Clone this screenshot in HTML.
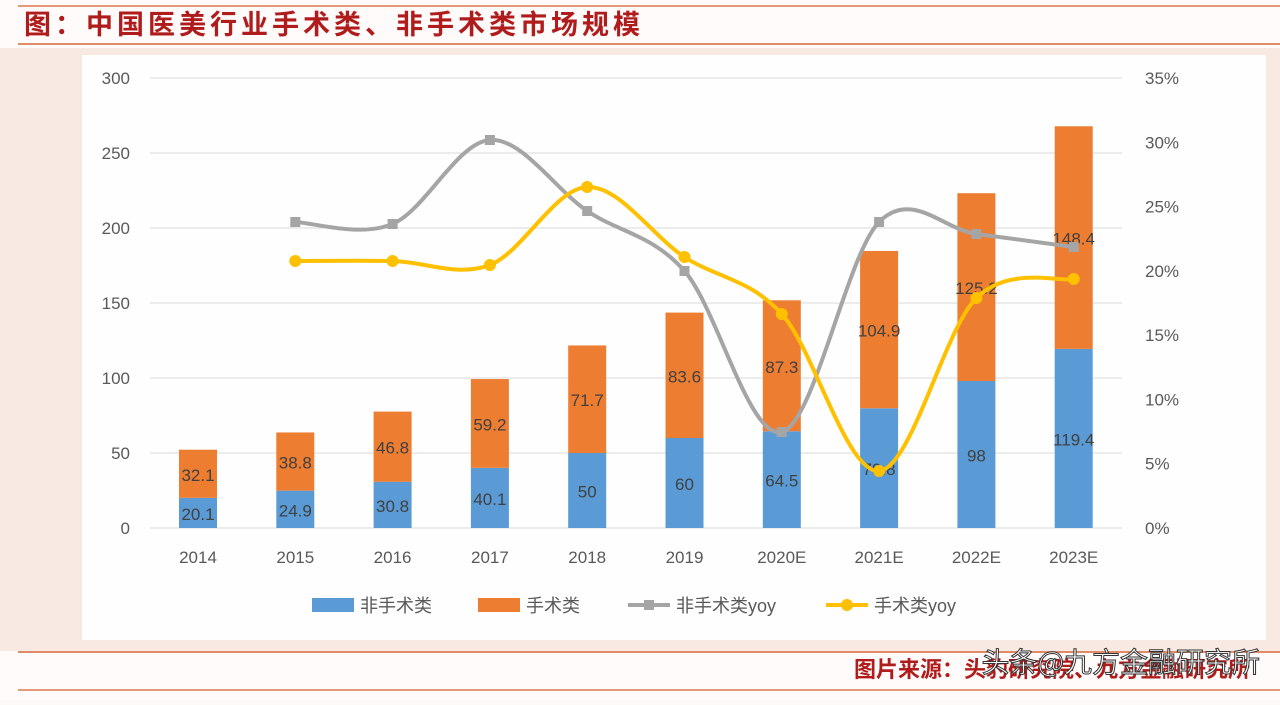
<!DOCTYPE html>
<html><head><meta charset="utf-8"><style>
body{margin:0;width:1280px;height:700px;background:#fdf9f7;overflow:hidden;font-family:"Liberation Sans","Noto Sans CJK SC",sans-serif}
</style></head><body>
<svg id="s" width="1280" height="700" xmlns="http://www.w3.org/2000/svg" font-family="Liberation Sans, Noto Sans CJK SC, sans-serif">
<rect x="0" y="0" width="1280" height="700" fill="#fefbfa"/>
<rect x="0" y="48" width="1280" height="603" fill="#f8e9e2"/>
<line x1="18" y1="6" x2="1280" y2="6" stroke="#e59a78" stroke-width="2"/>
<line x1="18" y1="44" x2="1280" y2="44" stroke="#e08a66" stroke-width="2"/>
<line x1="18" y1="652" x2="1280" y2="652" stroke="#e08a66" stroke-width="2"/>
<line x1="18" y1="690" x2="1280" y2="690" stroke="#e59a78" stroke-width="2"/>
<text x="24" y="34" font-size="27" font-weight="bold" fill="#b01c1c" letter-spacing="4" font-family="Noto Sans CJK SC, sans-serif">图：中国医美行业手术类、非手术类市场规模</text>
<rect x="82" y="55" width="1184" height="585" fill="#fefefe"/>
<text x="1250" y="677" font-size="22" font-weight="bold" fill="#b01c1c" text-anchor="end" font-family="Noto Sans CJK SC, sans-serif">图片来源：头豹研究院、九方金融研究所</text>
<text x="1260" y="672" font-size="28" fill="#fff" stroke="#333" stroke-width="1" text-anchor="end" font-family="Noto Sans CJK SC, sans-serif">头条@九方金融研究所</text>
<g id="g"></g>
</svg>
<script>
var g=document.getElementById('g'),h='';
function Y(v){return 528-v*1.5}
for(var i=0;i<=6;i++){var y=528-i*75;h+='<line x1="150" x2="1122" y1="'+y+'" y2="'+y+'" stroke="#d9d9d9"/>';h+='<text x="130" y="'+(y+6)+'" font-size="17" fill="#595959" text-anchor="end">'+(i*50)+'</text>';}
for(var i=0;i<=7;i++){var y=528-i*450/7;h+='<text x="1145" y="'+(y+6)+'" font-size="17" fill="#595959">'+(i*5)+'%</text>';}
var yrs=['2014','2015','2016','2017','2018','2019','2020E','2021E','2022E','2023E'];
var a=[20.1,24.9,30.8,40.1,50,60,64.5,79.8,98,119.4],b=[32.1,38.8,46.8,59.2,71.7,83.6,87.3,104.9,125.2,148.4];
var X=function(i){return 198+i*97.3};
for(var i=0;i<10;i++){var x=X(i);
h+='<rect x="'+(x-19)+'" y="'+Y(a[i])+'" width="38" height="'+(a[i]*1.5)+'" fill="#5b9bd5"/>';
h+='<rect x="'+(x-19)+'" y="'+Y(a[i]+b[i])+'" width="38" height="'+(b[i]*1.5)+'" fill="#ed7d31"/>';
h+='<text x="'+x+'" y="'+(Y(a[i]/2)+7)+'" font-size="17" fill="#404040" text-anchor="middle">'+a[i]+'</text>';
h+='<text x="'+x+'" y="'+(Y(a[i]+b[i]/2)+7)+'" font-size="17" fill="#404040" text-anchor="middle">'+b[i]+'</text>';
h+='<text x="'+x+'" y="563" font-size="17" fill="#595959" text-anchor="middle">'+yrs[i]+'</text>';}
function path(ys){var pts=ys.map(function(y,k){return [X(k+1),y]});var d='M'+pts[0];
for(var k=0;k<pts.length-1;k++){var p0=pts[k-1]||pts[k],p1=pts[k],p2=pts[k+1],p3=pts[k+2]||p2;
d+=' C'+(p1[0]+(p2[0]-p0[0])/6)+','+(p1[1]+(p2[1]-p0[1])/6)+' '+(p2[0]-(p3[0]-p1[0])/6)+','+(p2[1]-(p3[1]-p1[1])/6)+' '+p2;}return [d,pts]}
var gy=[222,224,140,211,271,432,222,234,247],yy=[261,261,265,187,257,314,471,298,279];
var r=path(gy);h+='<path d="'+r[0]+'" fill="none" stroke="#a5a5a5" stroke-width="4"/>';
r[1].forEach(function(p){h+='<rect x="'+(p[0]-5)+'" y="'+(p[1]-5)+'" width="10" height="10" fill="#a5a5a5"/>'});
r=path(yy);h+='<path d="'+r[0]+'" fill="none" stroke="#ffc000" stroke-width="4"/>';
r[1].forEach(function(p){h+='<circle cx="'+p[0]+'" cy="'+p[1]+'" r="6" fill="#ffc000"/>'});
h+='<rect x="312" y="598" width="42" height="14" fill="#5b9bd5"/><text x="360" y="612" font-size="18" fill="#595959">非手术类</text>';
h+='<rect x="478" y="598" width="42" height="14" fill="#ed7d31"/><text x="526" y="612" font-size="18" fill="#595959">手术类</text>';
h+='<line x1="628" x2="670" y1="605" y2="605" stroke="#a5a5a5" stroke-width="4"/><rect x="644" y="600" width="10" height="10" fill="#a5a5a5"/><text x="676" y="612" font-size="18" fill="#595959">非手术类yoy</text>';
h+='<line x1="826" x2="868" y1="605" y2="605" stroke="#ffc000" stroke-width="4"/><circle cx="847" cy="605" r="6" fill="#ffc000"/><text x="874" y="612" font-size="18" fill="#595959">手术类yoy</text>';
g.innerHTML=h;
</script>
</body></html>
